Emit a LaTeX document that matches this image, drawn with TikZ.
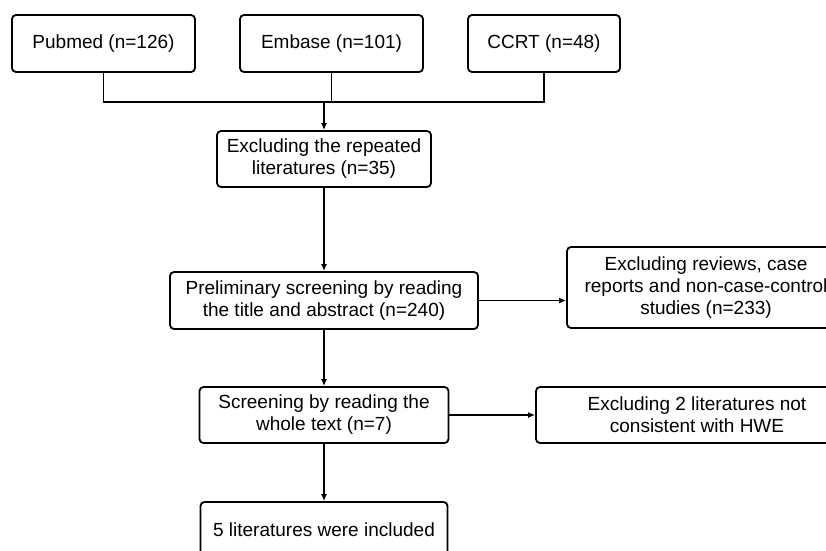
\documentclass[tikz,border=0pt]{standalone}
\usepackage{fontspec}
\setmainfont{Liberation Sans}
\usetikzlibrary{arrows.meta}
\begin{document}
\begin{tikzpicture}[x=1pt,y=-1pt,
  box/.style={draw, line width=1.8pt, rounded corners=4pt, align=center, inner sep=0pt,
    font=\fontsize{19}{22}\selectfont},
  conn/.style={line width=1.8pt},
  arr/.style={line width=1.8pt, -{Latex[length=7pt,width=6pt]}}]
\useasboundingbox (0,0) rectangle (826,550);
\fill[white] (0,0) rectangle (826,550);
\node[box, minimum width=183pt, minimum height=57pt] (pub) at (103.5,43.5) {Pubmed (n=126)};
\node[box, minimum width=183pt, minimum height=57pt] (emb) at (331.5,43.5) {Embase (n=101)};
\node[box, minimum width=152pt, minimum height=57pt] (ccrt) at (544,43.5) {CCRT (n=48)};
\node[box, minimum width=214pt, minimum height=56pt] (rep) at (324,159) {Excluding the repeated\\literatures (n=35)};
\node[box, minimum width=308pt, minimum height=57pt] (pre) at (324,300.5) {Preliminary screening by reading\\the title and abstract (n=240)};
\node[box, minimum width=278pt, minimum height=81pt] (rev) at (706,287.5) {Excluding reviews, case\\reports and non-case-control\\studies (n=233)};
\node[box, minimum width=249pt, minimum height=56pt] (scr) at (324,415) {Screening by reading the\\whole text (n=7)};
\node[box, minimum width=322pt, minimum height=56pt] (hwe) at (697,415) {Excluding 2 literatures not\\consistent with HWE};
\node[box, minimum width=247pt, minimum height=56pt] (inc) at (324,530) {5 literatures were included};
\coordinate (j) at (324,102);
\draw[conn] (pub.south) |- (ccrt.south |- j) -- (ccrt.south);
\draw[conn] (emb.south) -- (emb.south |- j);
\draw[arr] (j) -- (rep.north);
\draw[arr] (rep.south) -- (pre.north);
\draw[arr] (pre.east) -- (pre.east -| rev.west);
\draw[arr] (pre.south) -- (scr.north);
\draw[arr] (scr.east) -- (hwe.west);
\draw[arr] (scr.south) -- (inc.north);
\end{tikzpicture}
\end{document}
